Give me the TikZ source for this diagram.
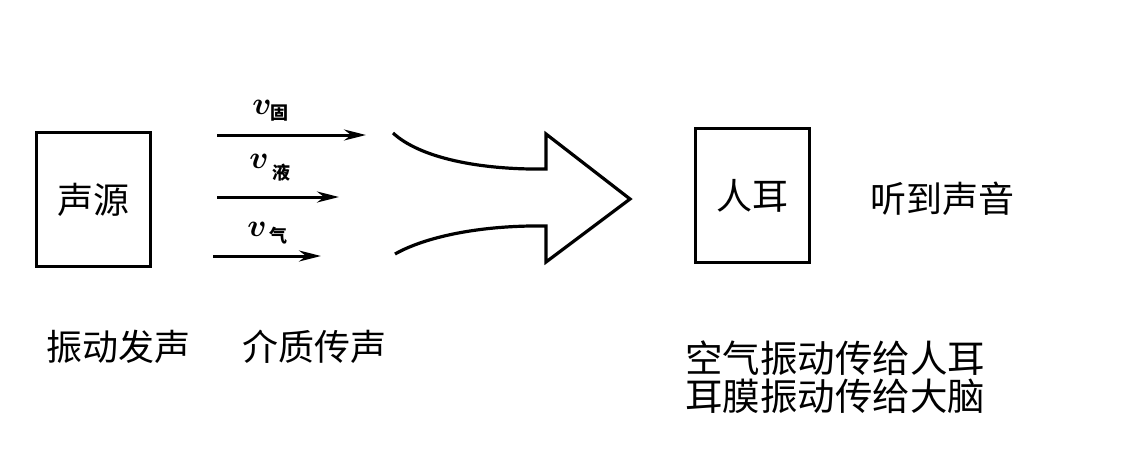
\RequirePackage{fix-cm}
\documentclass[tikz,border=0pt]{standalone}
\usepackage{fontspec}
\usepackage{bm}
\newfontfamily\cjk{Noto Sans CJK SC}
\usetikzlibrary{arrows.meta}
\begin{document}
\begin{tikzpicture}[x=1pt,y=-1pt,
  boxnode/.style={draw,line width=3.2pt,minimum width=114pt,minimum height=134pt,inner sep=0pt,font=\cjk\fontsize{36}{40}\selectfont},
  bigtext/.style={inner sep=0pt,font=\cjk\fontsize{36}{40}\selectfont},
  righttext/.style={inner sep=0pt,font=\cjk\fontsize{37.5}{40}\selectfont},
  speed/.style={line width=3pt,-{Stealth[length=22pt,width=11pt]}},
  vlab/.style={inner sep=0pt,font=\fontsize{32}{36}\selectfont},
  sublab/.style={inner sep=0pt,font=\cjk\bfseries\fontsize{18}{20}\selectfont},
  bigarrow/.style={line width=3.2pt,line join=miter}]
\useasboundingbox (0,0) rectangle (1121,472);
% boxes
\node[boxnode] (src) at (93.5,199.5) {声源};
\node[boxnode] (ear) at (752.5,195.5) {人耳};
\node[bigtext] (hear) at (942,199) {听到声音};
% speed arrows
\coordinate (a1s) at (217,135); \coordinate (a1e) at (366,135);
\coordinate (a2s) at (217,197); \coordinate (a2e) at (339,197);
\coordinate (a3s) at (213,256); \coordinate (a3e) at (321,256);
\draw[speed] (a1s) -- (a1e);
\draw[speed] (a2s) -- (a2e);
\draw[speed] (a3s) -- (a3e);
\node[vlab] (v1) at (262,107) {$\bm{v}$};
\node[sublab] (s1) at (279,113) {固};
\node[vlab] (v2) at (259,161) {$\bm{v}$};
\node[sublab] (s2) at (281,173) {液};
\node[vlab] (v3) at (257,229) {$\bm{v}$};
\node[sublab] (s3) at (278,236) {气};
% big arrow
\coordinate (u0) at (393,133);
\coordinate (u1) at (546,169);
\coordinate (u2) at (546,134);
\coordinate (tip) at (630,199);
\coordinate (l2) at (546,262);
\coordinate (l1) at (546,226);
\coordinate (l0) at (395,254);
\draw[bigarrow] (u0) .. controls (420,158) and (480,170) .. (u1) -- (u2) -- (tip) -- (l2) -- (l1) .. controls (480,225) and (425,237) .. (l0);
% bottom labels
\node[bigtext] (t1) at (118,347) {振动发声};
\node[bigtext] (t2) at (314,347) {介质传声};
\node[righttext,align=left] (t3) at (835,377) {空气振动传给人耳\\[-2pt]耳膜振动传给大脑};
\end{tikzpicture}
\end{document}
